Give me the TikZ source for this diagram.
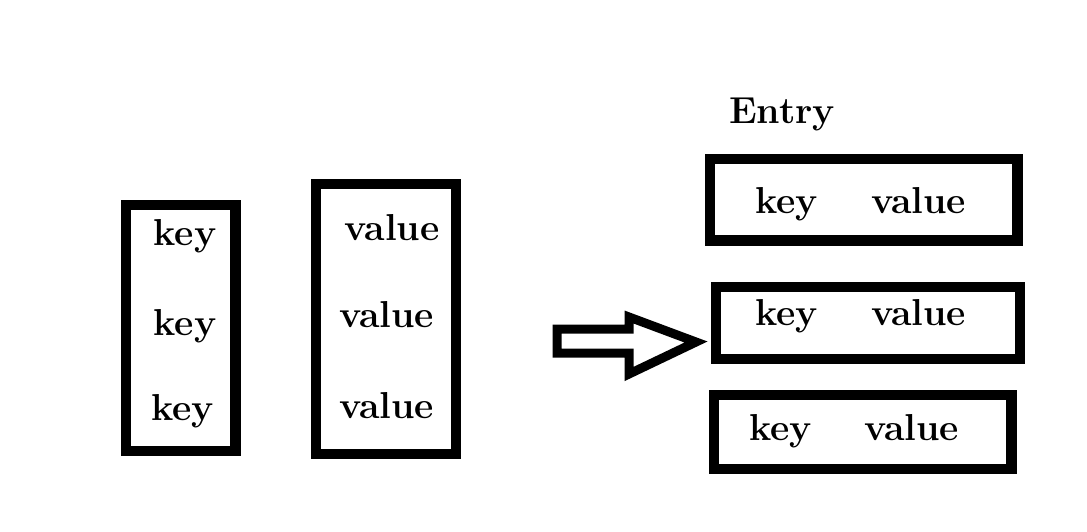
\documentclass[tikz,border=0pt]{standalone}
\begin{document}
\begin{tikzpicture}[x=1pt,y=-1pt,
  box/.style={draw=black,line width=10.5pt,fill=white,inner sep=0pt,outer sep=0pt},
  lbl/.style={anchor=base,inner sep=0pt,font=\fontsize{37.5}{41}\selectfont\bfseries},
  bigarrow/.style={draw=black,line width=9pt,fill=white,line join=miter}]
\useasboundingbox (0,0) rectangle (1087,531);
% left boxes
\node[box,minimum width=109.5pt,minimum height=246pt] (kbox) at (180.75,328) {};
\node[box,minimum width=140pt,minimum height=270pt] (vbox) at (386,319) {};
\node[lbl] (k1) at (185,245) {key};
\node[lbl] (k2) at (185,335) {key};
\node[lbl] (k3) at (182.5,420) {key};
\node[lbl] (v1) at (392,240) {value};
\node[lbl] (v2) at (386.5,327) {value};
\node[lbl] (v3) at (386.5,418) {value};
% arrow
\draw[bigarrow] (557,329) -- (629,329) -- (629,317) -- (696,342) -- (629,374) -- (629,353) -- (557,353) -- cycle;
% right side
\node[lbl] (entry) at (782,123) {Entry};
\node[box,minimum width=307.7pt,minimum height=81.7pt] (e1) at (863.85,199.85) {};
\node[box,minimum width=304pt,minimum height=72pt] (e2) at (868,323) {};
\node[box,minimum width=297.7pt,minimum height=74pt] (e3) at (862.85,432) {};
\node[lbl] (e1k) at (786.5,213) {key};
\node[lbl] (e1v) at (918.5,213) {value};
\node[lbl] (e2k) at (786.5,325) {key};
\node[lbl] (e2v) at (918.5,325) {value};
\node[lbl] (e3k) at (780.5,440) {key};
\node[lbl] (e3v) at (911.5,440) {value};
\end{tikzpicture}
\end{document}
